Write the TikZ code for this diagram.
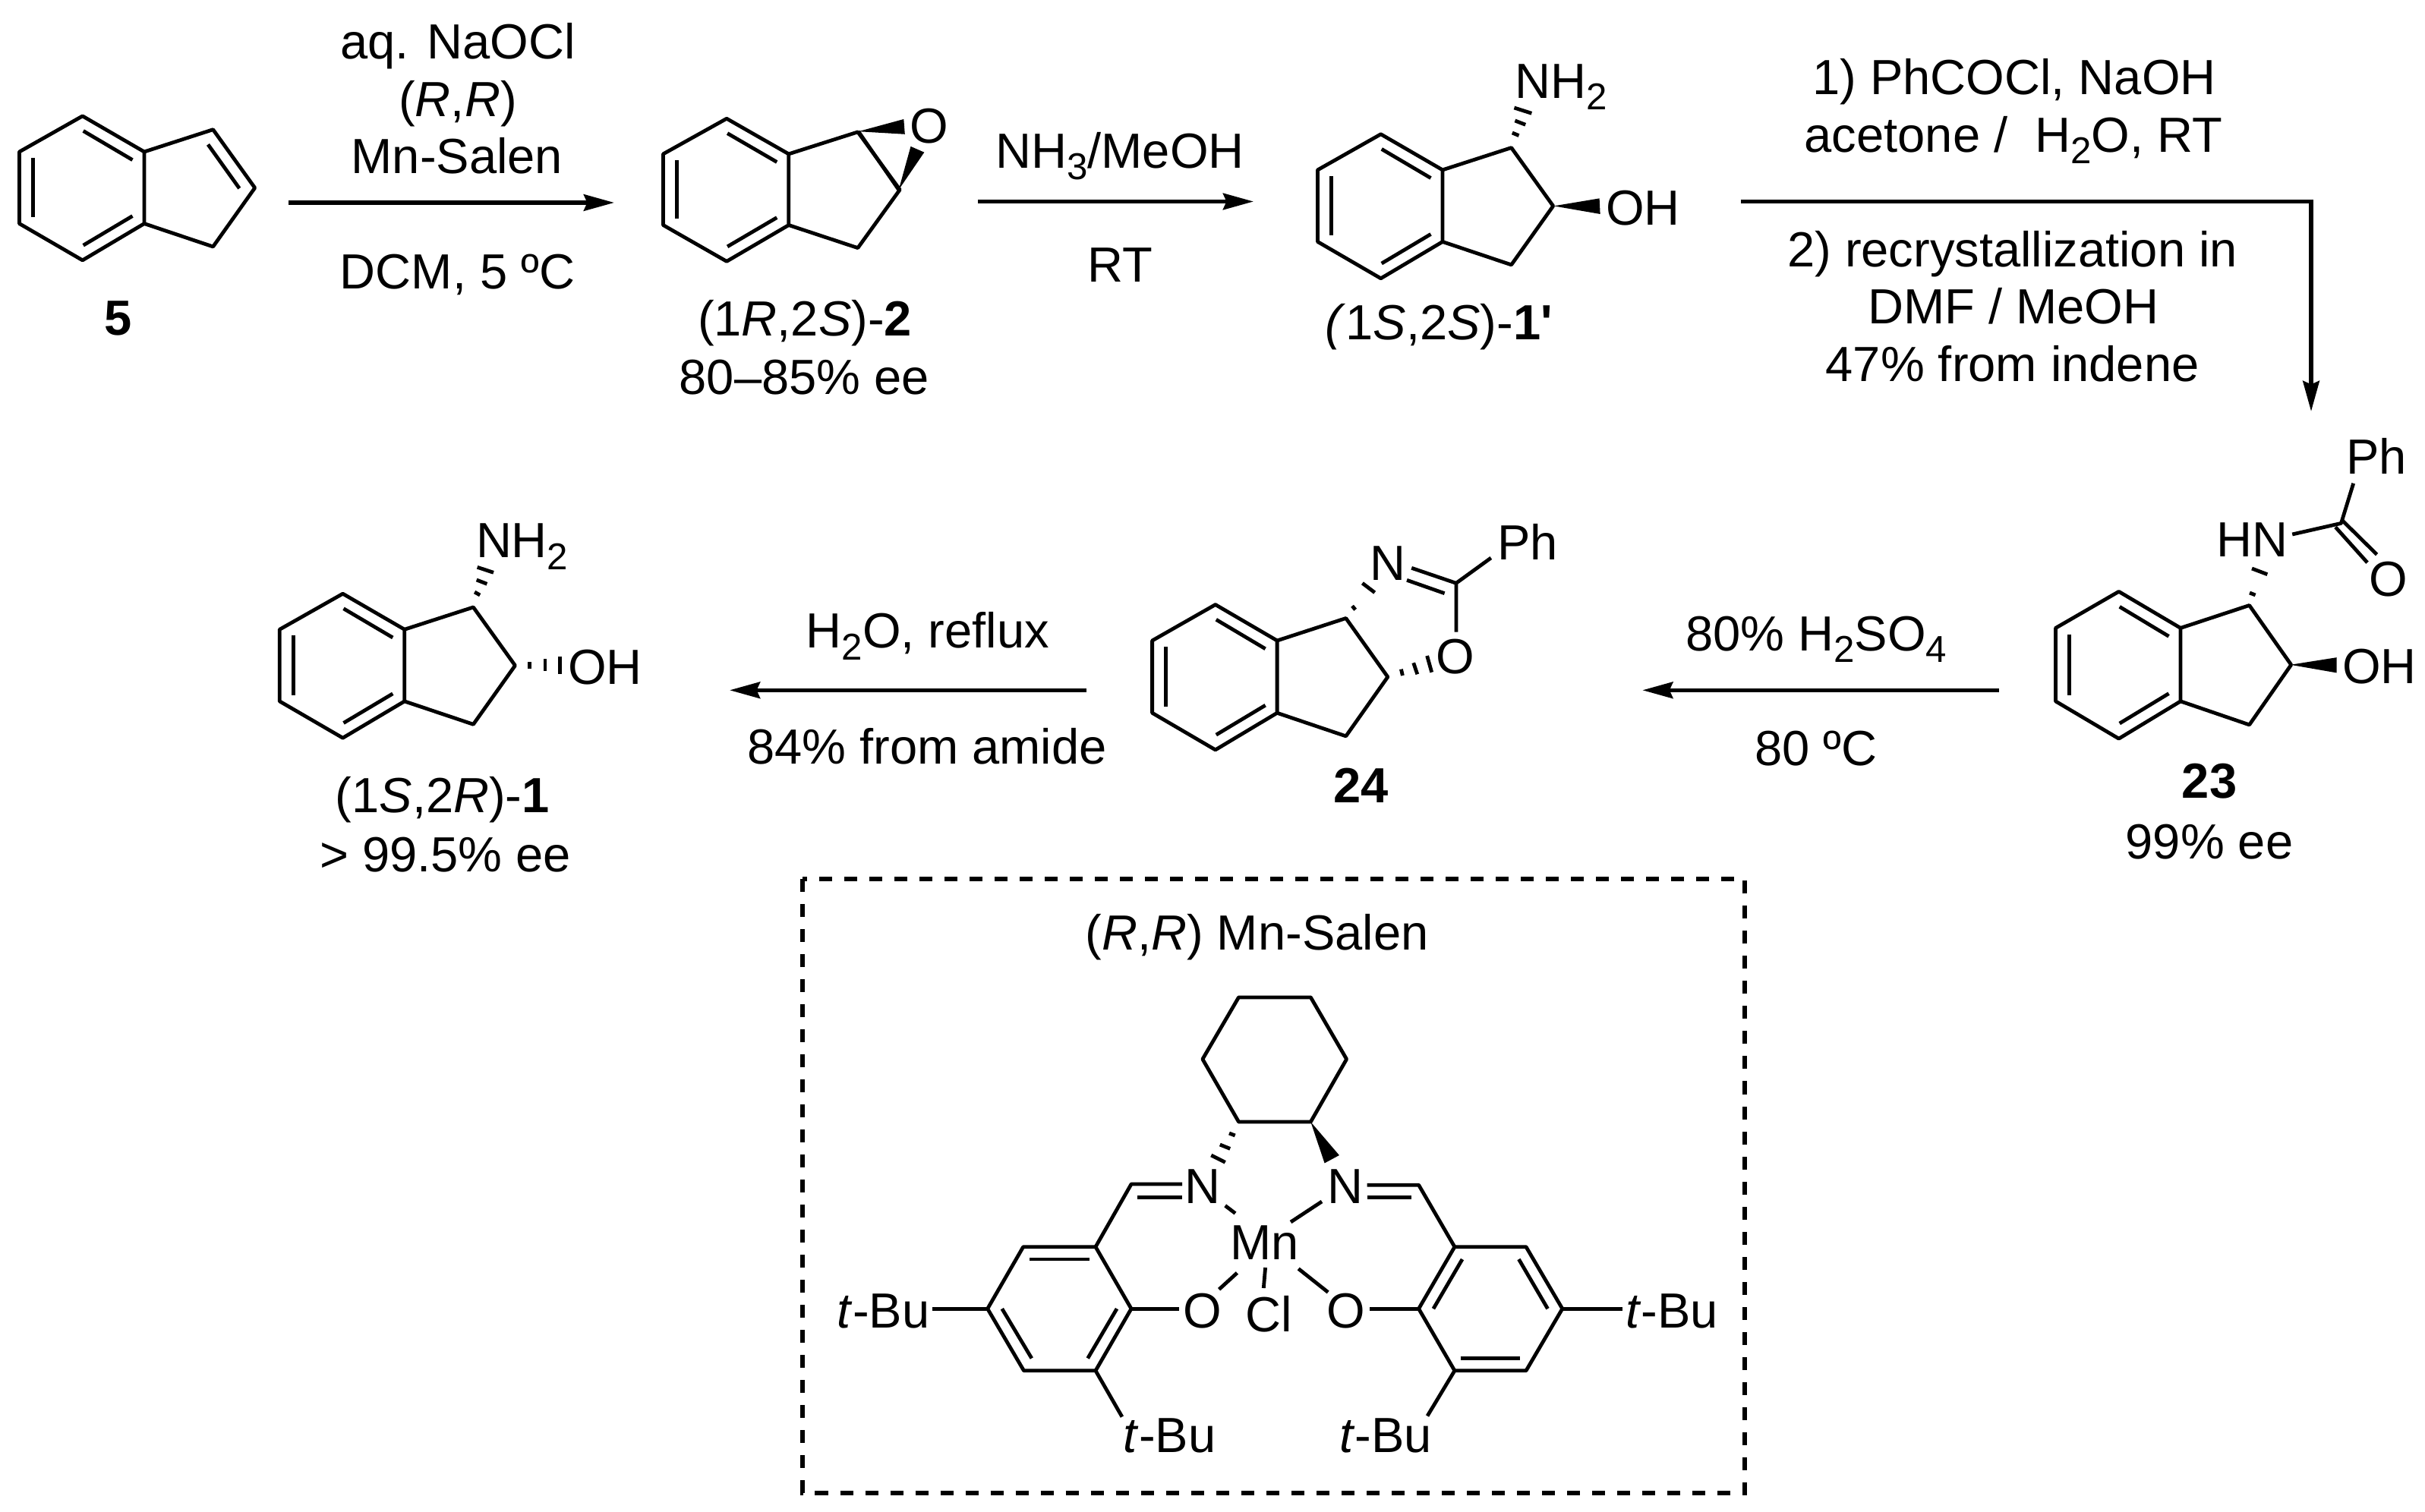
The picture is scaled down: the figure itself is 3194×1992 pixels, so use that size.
\documentclass[tikz,border=0pt]{standalone}
\usepackage{fontspec}
\setmainfont{Liberation Sans}
\usetikzlibrary{arrows.meta}
\newcommand\chemsub[1]{\raisebox{-0.15cm}{\fontsize{14}{14}\selectfont #1}}
\tikzset{
  bond/.style={line width=0.048cm,line join=round,black},
  wedge/.style={fill=black,draw=none},
  rxn/.style={line width=0.054cm,-{Stealth[length=0.40cm,width=0.215cm,inset=0.045cm]}},
  boxline/.style={line width=0.052cm,dash pattern=on 0.17cm off 0.16cm},
  lbl/.style={anchor=base,inner sep=0pt,outer sep=0pt,font=\fontsize{18.5}{22}\selectfont},
  lblw/.style={lbl,anchor=base west},
}
\newcommand\indene[4]{%
  \begin{scope}[shift={(#1,#2)},xscale=#3,yscale=#4]
    \draw[bond] (-81.3,-47.1) -- (-164.5,0) -- (-164.5,94.6) -- (-81.3,142.9) -- (0,94.6) -- (0,0) -- cycle;
    \draw[bond] (0,0) -- (90.6,-29.3) -- (145.7,47.5) -- (90.6,125) -- (0,94.6);
    \draw[bond] (-80.3,-27.5) -- (-15.5,10.7);
    \draw[bond] (-146.6,8) -- (-146.6,86.4);
    \draw[bond] (-80.3,123.2) -- (-15.5,84.6);
  \end{scope}}
\begin{document}
\begin{tikzpicture}[x=0.01cm,y=-0.01cm]
\useasboundingbox (0,0) rectangle (3194,1992);
% ---------- reaction arrows
\coordinate (a1s) at (380,267);     \coordinate (a1e) at (809,267);
\coordinate (a2s) at (1288,265.5);  \coordinate (a2e) at (1651,265.5);
\coordinate (a3s) at (2292.6,265.5);\coordinate (a3e) at (3044,542);
\coordinate (a4s) at (2632.7,909.3);\coordinate (a4e) at (2163.3,909.3);
\coordinate (a5s) at (1431,909.3);  \coordinate (a5e) at (961,909.3);
\draw[rxn] (a1s) -- (a1e);
\draw[rxn] (a2s) -- (a2e);
\draw[rxn] (a3s) -| (a3e);
\draw[rxn] (a4s) -- (a4e);
\draw[rxn] (a5s) -- (a5e);
% ---------- conditions
\node[lbl] (c1a) at (603,77.9) {aq. NaOCl};
\node[lbl] (c1b) at (603,153.6) {(\textit{R},\textit{R})};
\node[lbl] (c1c) at (602,228.6) {Mn-Salen};
\node[lbl] (c1d) at (602.6,380.4) {DCM, 5 ºC};
\node[lbl] (c2a) at (1475,222) {NH\chemsub{3}/MeOH};
\node[lbl] (c2b) at (1475.5,372) {RT};
\node[lbl] (c3a) at (2653,125) {1) PhCOCl, NaOH};
\node[lbl] (c3b) at (2652,200.7) {acetone /\ \ H\chemsub{2}O, RT};
\node[lbl] (c3c) at (2650.6,351.7) {2) recrystallization in};
\node[lbl] (c3d) at (2652,426.7) {DMF / MeOH};
\node[lbl] (c3e) at (2650.6,502.7) {47\% from indene};
\node[lbl] (c4a) at (2392,857.7) {80\% H\chemsub{2}SO\chemsub{4}};
\node[lbl] (c4b) at (2391.7,1008.3) {80 ºC};
\node[lbl] (c5a) at (1222,854) {H\chemsub{2}O, reflux};
\node[lbl] (c5b) at (1221,1006) {84\% from amide};
% ---------- 5
\indene{190}{200}{1}{1}
\draw[bond] (274,190.4) -- (315.3,248.2);
\node[lbl] (n5) at (155.6,442) {\textbf{5}};
% ---------- (1R,2S)-2
\indene{1038.8}{202.9}{1.005}{0.99}
\draw[bond] (1130.6,173.2) -- (1183.7,250);
\fill[wedge] (1130.6,173.2) -- (1190.3,157) -- (1191.8,176.8) -- cycle;
\fill[wedge] (1183.7,250) -- (1199.5,192.9) -- (1217.3,200.7) -- cycle;
\node[lbl] (o2) at (1223.5,188.5) {O};
\node[lbl] (n2) at (1060,442.9) {(1\textit{R},2\textit{S})-\textbf{2}};
\node[lbl] (n2b) at (1059.4,519.6) {80–85\% ee};
% ---------- (1S,2S)-1'
\indene{1900}{223.9}{1}{1}
\draw[bond] (1994.4,142) -- (2017.3,149.3);
\draw[bond] (1995.4,159) -- (2009.2,164.3);
\draw[bond] (1991.8,175) -- (2000.5,178.6);
\fill[wedge] (2046.4,271.4) -- (2106.6,261.4) -- (2107.6,282) -- cycle;
\node[lblw] (nh1) at (1995.5,129.3) {NH\chemsub{2}};
\node[lblw] (oh1) at (2115,296.4) {OH};
\node[lbl] (n1p) at (1895,448) {\textit{(}1\textit{S},2\textit{S})-\textbf{1\textquotesingle}};
% ---------- 23
\indene{2872}{827.4}{1}{1.02}
\draw[bond] (2966,749) -- (2986.3,756.7);
\draw[bond] (2963,781) -- (2970.6,784);
\fill[wedge] (3016.7,875.8) -- (3077.5,866.2) -- (3077.5,886.4) -- cycle;
\draw[bond] (3019.2,704) -- (3083.5,689.4) -- (3099.7,636.8);
\draw[bond] (3084.6,685.2) -- (3130.6,730.6);
\draw[bond] (3076,694.4) -- (3118,741.2);
\node[lblw] (ph23) at (3090,625) {Ph};
\node[lblw] (hn23) at (2919,733.6) {HN};
\node[lbl] (o23) at (3145.3,786) {O};
\node[lblw] (oh23) at (3085,901) {OH};
\node[lbl] (n23) at (2910,1051.4) {\textbf{23}};
\node[lbl] (n23b) at (2910,1131) {99\% ee};
% ---------- 24
\indene{1682.1}{844}{1}{1.007}
\draw[bond] (1794.4,768.3) -- (1810.7,780.7);
\draw[bond] (1781,798.3) -- (1785.2,803.3);
\draw[bond] (1845.4,881.7) -- (1847.4,890);
\draw[bond] (1861.7,873.3) -- (1866.8,888.3);
\draw[bond] (1879.6,864) -- (1885.7,885.7);
\draw[bond] (1859.2,748.3) -- (1917.9,768.3);
\draw[bond] (1853,764.3) -- (1902.6,781.7);
\draw[bond] (1963.8,735) -- (1917.9,768.3) -- (1917.9,832.7);
\node[lbl] (n24n) at (1828,765) {N};
\node[lblw] (ph24) at (1972,737.7) {Ph};
\node[lbl] (o24) at (1916.8,887.3) {O};
\node[lbl] (n24) at (1792.9,1057.3) {\textbf{24}};
% ---------- (1S,2R)-1
\indene{532.8}{829.3}{1}{1}
\draw[bond] (628.7,747.3) -- (650,754.3);
\draw[bond] (627.7,764) -- (641.4,769.3);
\draw[bond] (625.1,780) -- (632.2,784);
\draw[bond] (697.6,872.3) -- (697.6,880.7);
\draw[bond] (718,868.3) -- (718,884.3);
\draw[bond] (737.3,865) -- (737.3,888.3);
\node[lblw] (nh2) at (627,735) {NH\chemsub{2}};
\node[lblw] (oh2) at (748,901.7) {OH};
\node[lbl] (n1) at (582.8,1070.7) {(1\textit{S},2\textit{R})-\textbf{1}};
\node[lbl] (n1b) at (586.5,1148.3) {> 99.5\% ee};
% ---------- Mn-Salen box
\draw[boxline] (1057,1158) rectangle (2298,1967);
\node[lbl] (t) at (1655.5,1251.4) {(\textit{R},\textit{R}) Mn-Salen};
\draw[bond] (1631.5,1313.9) -- (1726.3,1313.9) -- (1773.6,1395.4) -- (1726.3,1478) -- (1631.5,1478) -- (1583.9,1395.4) -- cycle;
% right half
\fill[wedge] (1726.3,1478) -- (1744.6,1532.4) -- (1763.9,1522) -- cycle;
\draw[bond] (1800.6,1561.2) -- (1868.6,1561.2) -- (1915.9,1642.7);
\draw[bond] (1800.6,1577.5) -- (1859.4,1577.5);
\draw[bond] (1915.9,1642.7) -- (2010,1642.7) -- (2057.8,1724.2) -- (2010,1805.8) -- (1915.9,1805.8) -- (1868.6,1724.2) -- cycle;
\draw[bond] (1926,1659) -- (1887.9,1724.2);
\draw[bond] (2000.4,1659) -- (2038.5,1724.2);
\draw[bond] (1923.7,1789.5) -- (2001.7,1789.5);
\draw[bond] (2057.8,1724.2) -- (2137.2,1724.2);
\draw[bond] (1915.9,1805.8) -- (1880,1865.5);
\draw[bond] (1868.6,1724.2) -- (1804.3,1724.2);
% left half
\draw[bond] (1619,1493) -- (1626.7,1496);
\draw[bond] (1606.8,1508) -- (1620.2,1513.4);
\draw[bond] (1595.3,1522) -- (1613.7,1531.3);
\draw[bond] (1557,1560) -- (1490,1560) -- (1443,1642.7);
\draw[bond] (1557,1577.5) -- (1497.8,1577.5);
\draw[bond] (1443,1642.7) -- (1347.7,1642.7) -- (1300.7,1724.2) -- (1348.5,1805.8) -- (1443,1805.8) -- (1490,1724.2) -- cycle;
\draw[bond] (1356.2,1659) -- (1434.6,1659);
\draw[bond] (1319.8,1724.2) -- (1358.8,1789.5);
\draw[bond] (1432.7,1789.5) -- (1471,1724.2);
\draw[bond] (1300.7,1724.2) -- (1228,1724.2);
\draw[bond] (1490,1724.2) -- (1553.2,1724.2);
\draw[bond] (1443,1805.8) -- (1477.9,1866.6);
% Mn bonds
\draw[bond] (1700,1610) -- (1741,1583);
\draw[bond] (1710.2,1671.5) -- (1749.2,1702.5);
\draw[bond] (1666.6,1670) -- (1664.3,1697);
\draw[bond] (1629.4,1677) -- (1605.6,1698.7);
\draw[bond] (1613.7,1588.4) -- (1627,1598.5);
% atoms
\node[lbl] (nr) at (1772,1585.7) {N};
\node[lbl] (nl) at (1584,1585.7) {N};
\node[lbl] (mn) at (1665.5,1659) {Mn};
\node[lbl] (cl) at (1671,1754) {Cl};
\node[lbl] (or) at (1773,1749) {O};
\node[lbl] (ol) at (1584,1749) {O};
\node[lbl] (bur) at (2202,1749.8) {\textit{t}-Bu};
\node[lbl] (bul) at (1163.5,1749.8) {\textit{t}-Bu};
\node[lbl] (bubr) at (1825,1913.4) {\textit{t}-Bu};
\node[lbl] (bubl) at (1540.5,1913.4) {\textit{t}-Bu};
\end{tikzpicture}
\end{document}
